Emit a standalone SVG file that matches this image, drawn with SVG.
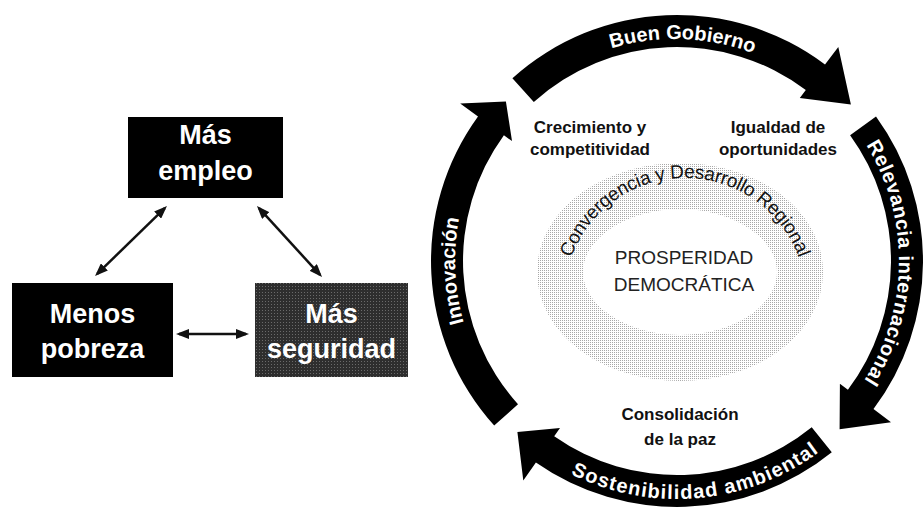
<svg xmlns="http://www.w3.org/2000/svg" width="924" height="515" viewBox="0 0 924 515">
<style>
.box{fill:#000}
.bt{font-family:"Liberation Sans",Arial,sans-serif;font-weight:bold;font-size:27px;fill:#fff;text-anchor:middle}
.conn{stroke:#111;stroke-width:2.5;fill:none}
.band{fill:#000}
.at{font-family:"Liberation Sans",Arial,sans-serif;font-weight:bold;font-size:20px;fill:#fff}
.it{font-family:"Liberation Sans",Arial,sans-serif;font-weight:bold;font-size:17px;fill:#111;text-anchor:middle}
.ct{font-family:"Liberation Sans",Arial,sans-serif;font-size:19px;fill:#222;text-anchor:middle}
.cv{font-family:"Liberation Sans",Arial,sans-serif;font-size:19px;fill:#111}
</style>
<defs>
<marker id="ah" viewBox="0 0 13 10" markerWidth="13" markerHeight="10" refX="10" refY="5" orient="auto-start-reverse" markerUnits="userSpaceOnUse">
<path d="M0,0 L13,5 L0,10 Z" fill="#111"/>
</marker>
<pattern id="dots" width="2" height="2" patternUnits="userSpaceOnUse">
<rect width="1" height="1" fill="#a8a8a8"/>
</pattern>
<pattern id="noise" width="3" height="3" patternUnits="userSpaceOnUse">
<rect width="3" height="3" fill="#2e2e2e"/>
<rect x="1" y="1" width="1" height="1" fill="#6a6a6a"/>
</pattern>
<path id="pBuen" d="M486.7,143.4 A222,222 0 0 1 871.0,156.8"/>
<path id="pRel" d="M789.7,69.7 A222,222 0 0 1 786.3,454.2"/>
<path id="pInn" d="M574.5,457.9 A222,222 0 0 1 557.7,73.8"/>
<path id="pSos" d="M482.0,397.5 A238,238 0 0 0 892.7,361.6"/>
<path id="pConv" d="M564,299 A121,121 0 0 1 806,299"/>
</defs>
<rect width="924" height="515" fill="#fff"/>

<g id="connectors">
<line class="conn" x1="164.8" y1="208.1" x2="97.2" y2="273.9" marker-start="url(#ah)" marker-end="url(#ah)"/>
<line class="conn" x1="259.0" y1="208.2" x2="320.0" y2="274.8" marker-start="url(#ah)" marker-end="url(#ah)"/>
<line class="conn" x1="179" y1="334" x2="246" y2="334" marker-start="url(#ah)" marker-end="url(#ah)"/>
</g>

<g id="mas-empleo">
<rect class="box" x="128" y="117" width="155" height="81"/>
<text class="bt" x="205.5" y="144">Más</text>
<text class="bt" x="205.5" y="180">empleo</text>
</g>
<g id="menos-pobreza">
<rect class="box" x="12" y="283" width="161" height="94"/>
<text class="bt" x="92.5" y="323">Menos</text>
<text class="bt" x="92.5" y="358">pobreza</text>
</g>
<g id="mas-seguridad">
<rect x="255" y="283" width="153" height="94" fill="url(#noise)"/>
<text class="bt" x="331.5" y="323">Más</text>
<text class="bt" x="331.5" y="358">seguridad</text>
</g>

<g id="centro">
<ellipse cx="680" cy="272" rx="120" ry="86" fill="none" stroke="url(#dots)" stroke-width="46"/>
<text class="cv"><textPath href="#pConv" startOffset="50%" text-anchor="middle" textLength="296" lengthAdjust="spacing">Convergencia y Desarrollo Regional</textPath></text>
<text class="ct" x="684" y="264">PROSPERIDAD</text>
<text class="ct" x="684" y="291">DEMOCRÁTICA</text>
</g>

<g id="crecimiento">
<text class="it" x="590" y="133">Crecimiento y</text>
<text class="it" x="590" y="155">competitividad</text>
</g>
<g id="igualdad">
<text class="it" x="778" y="133">Igualdad de</text>
<text class="it" x="778" y="155">oportunidades</text>
</g>
<g id="consolidacion">
<text class="it" x="680" y="420">Consolidación</text>
<text class="it" x="680" y="445">de la paz</text>
</g>

<g id="buen-gobierno">
<path class="band" d="M512.4,78.2 A246,246 0 0 1 825.0,64.5 L838.3,47.0 L850.9,104.4 L799.8,98.1 L805.8,90.1 A214,214 0 0 0 533.8,102.0 Z"/>
<text class="at"><textPath href="#pBuen" startOffset="50%" text-anchor="middle">Buen Gobierno</textPath></text>
</g>
<g id="relevancia-internacional">
<path class="band" d="M876.0,116.4 A246,246 0 0 1 873.5,409.0 L891.0,422.3 L839.6,429.3 L839.9,383.8 L847.9,389.8 A214,214 0 0 0 850.1,135.2 Z"/>
<text class="at"><textPath href="#pRel" startOffset="50%" text-anchor="middle" textLength="248" lengthAdjust="spacing">Relevancia internacional</textPath></text>
</g>
<g id="sostenibilidad-ambiental">
<path class="band" d="M831.8,452.2 A246,246 0 0 1 535.9,462.5 L523.3,480.5 L517.4,432.1 L560.0,428.1 L554.2,436.3 A214,214 0 0 0 811.7,427.3 Z"/>
<text class="at"><textPath href="#pSos" startOffset="50%" text-anchor="middle" textLength="262" lengthAdjust="spacing">Sostenibilidad ambiental</textPath></text>
</g>
<g id="innovacion">
<path class="band" d="M494.2,425.6 A246,246 0 0 1 478.0,116.4 L460.2,103.5 L505.9,101.4 L512.0,141.1 L503.9,135.2 A214,214 0 0 0 518.0,404.2 Z"/>
<text class="at"><textPath href="#pInn" startOffset="50%" text-anchor="middle">Innovación</textPath></text>
</g>
</svg>
